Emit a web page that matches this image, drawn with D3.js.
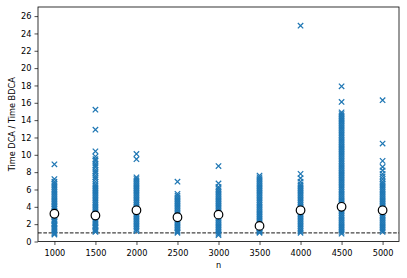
<!DOCTYPE html>
<html>
<head>
<meta charset="utf-8">
<script src="https://cdn.jsdelivr.net/npm/d3@7"></script>
<style>
  body { margin: 0; background: #fff; }
  svg { display: block; font-family: "DejaVu Sans", sans-serif; }
  text { font-family: "DejaVu Sans", sans-serif; }
  .tick text { font-size: 8.2px; fill: #000; font-family: "DejaVu Sans", sans-serif; }
  .tick line { stroke: #000; stroke-width: 0.7; }
  .domain { display: none; }
</style>
</head>
<body>
<div id="chart"></div>
<script>
const ns = [1000, 1500, 2000, 2500, 3000, 3500, 4000, 4500, 5000];
const means = [3.2, 3.0, 3.6, 2.8, 3.1, 1.8, 3.6, 4.0, 3.6];

const ratios1000 = [0.8, 0.95, 1.1, 1.3, 1.45, 1.6, 1.8, 1.95, 2.1, 2.3, 2.45, 2.6, 2.8, 2.95, 3.1, 3.3, 3.45, 3.6, 3.8, 3.95, 4.1, 4.3, 4.5, 4.7, 4.9, 5.1, 5.3, 5.5, 5.7, 5.9, 6.1, 6.3, 6.5, 6.7, 6.9, 7.2, 8.9];
const ratios1500 = [1.1, 1.25, 1.4, 1.6, 1.75, 1.9, 2.1, 2.25, 2.4, 2.6, 2.8, 3.0, 3.2, 3.4, 3.6, 3.8, 4.0, 4.2, 4.4, 4.6, 4.8, 5.0, 5.2, 5.4, 5.6, 5.8, 6.0, 6.2, 6.4, 6.6, 6.9, 7.2, 7.4, 7.6, 7.9, 8.1, 8.3, 8.6, 8.8, 9.0, 9.3, 9.5, 9.8, 10.4, 12.9, 15.2];
const ratios2000 = [1.2, 1.4, 1.6, 1.8, 2.0, 2.2, 2.4, 2.6, 2.8, 3.0, 3.2, 3.4, 3.6, 3.8, 4.0, 4.2, 4.4, 4.6, 4.8, 5.0, 5.2, 5.4, 5.6, 5.8, 6.0, 6.2, 6.4, 6.6, 6.8, 7.0, 7.2, 7.4, 9.5, 10.1];
const ratios2500 = [1.0, 1.15, 1.3, 1.5, 1.7, 1.9, 2.1, 2.3, 2.5, 2.7, 2.9, 3.1, 3.3, 3.5, 3.7, 3.9, 4.1, 4.3, 4.5, 4.7, 4.9, 5.1, 5.3, 5.5, 6.9];
const ratios3000 = [0.75, 0.9, 1.1, 1.3, 1.5, 1.7, 1.9, 2.1, 2.3, 2.5, 2.7, 2.9, 3.1, 3.3, 3.5, 3.7, 3.9, 4.1, 4.3, 4.5, 4.7, 4.9, 5.1, 5.3, 5.5, 5.7, 5.9, 6.1, 6.3, 6.7, 8.7];
const ratios3500 = [1.0, 1.1, 1.2, 1.3, 1.4, 1.5, 1.6, 1.8, 2.0, 2.2, 2.4, 2.6, 2.8, 3.0, 3.2, 3.4, 3.6, 3.8, 4.0, 4.2, 4.4, 4.6, 4.8, 5.0, 5.2, 5.4, 5.6, 5.8, 6.0, 6.2, 6.4, 6.6, 6.8, 7.0, 7.2, 7.4, 7.6];
const ratios4000 = [1.0, 1.2, 1.4, 1.6, 1.8, 2.0, 2.2, 2.4, 2.6, 2.8, 3.0, 3.2, 3.4, 3.6, 3.8, 4.0, 4.2, 4.4, 4.6, 4.8, 5.0, 5.2, 5.4, 5.6, 5.8, 6.0, 6.2, 6.4, 6.6, 6.9, 7.3, 7.8, 24.9];
const ratios4500 = [0.9, 1.1, 1.3, 1.5, 1.7, 1.9, 2.1, 2.3, 2.5, 2.7, 2.9, 3.1, 3.3, 3.5, 3.7, 3.9, 4.1, 4.3, 4.5, 4.7, 4.9, 5.1, 5.3, 5.5, 5.7, 5.9, 6.1, 6.3, 6.5, 6.7, 6.9, 7.1, 7.3, 7.5, 7.7, 7.9, 8.1, 8.3, 8.5, 8.7, 8.9, 9.1, 9.3, 9.5, 9.7, 9.9, 10.1, 10.3, 10.5, 10.7, 10.9, 11.1, 11.3, 11.5, 11.7, 11.9, 12.1, 12.3, 12.5, 12.7, 12.9, 13.1, 13.3, 13.5, 13.7, 13.9, 14.1, 14.3, 14.5, 14.7, 14.9, 16.1, 17.9];
const ratios5000 = [1.1, 1.3, 1.5, 1.7, 1.9, 2.1, 2.3, 2.5, 2.7, 2.9, 3.1, 3.3, 3.5, 3.7, 3.9, 4.1, 4.3, 4.5, 4.7, 4.9, 5.1, 5.3, 5.5, 5.7, 5.9, 6.1, 6.3, 6.5, 6.7, 6.9, 7.2, 7.5, 7.8, 8.2, 8.6, 9.3, 11.3, 16.3];

const ratios = [ratios1000, ratios1500, ratios2000, ratios2500, ratios3000, ratios3500, ratios4000, ratios4500, ratios5000];
const yTicks = [0, 2, 4, 6, 8, 10, 12, 14, 16, 18, 20, 22, 24, 26];
const baseline = 1;

const outerWidth = 407;
const outerHeight = 278;
const margin = { top: 7, left: 38, bottom: 36.5, right: 8 };
const innerWidth = outerWidth - margin.left - margin.right;
const innerHeight = outerHeight - margin.top - margin.bottom;
const blue = '#1f77b4';

const points = ns.flatMap((n, i) => ratios[i].map(v => ({ n, v })));

const xScale = d3.scaleLinear().domain([800, 5200]).range([0, innerWidth]);
const yScale = d3.scaleLinear().domain([0, 27.05]).range([innerHeight, 0]);

const svg = d3.select('#chart')
    .append('svg')
        .attr('width', outerWidth)
        .attr('height', outerHeight)
    .append('g')
        .attr('transform', `translate(${margin.left},${margin.top})`);

// dashed reference line at ratio 1
svg.append('line')
    .attr('x1', 0)
    .attr('x2', innerWidth)
    .attr('y1', yScale(baseline))
    .attr('y2', yScale(baseline))
    .attr('stroke', '#444')
    .attr('stroke-width', 1.2)
    .attr('stroke-dasharray', '3.7 1.6');

// x markers
const s = 2.7;
svg.selectAll('.pt')
    .data(points)
    .join('path')
        .classed('pt', true)
        .attr('transform', d => `translate(${xScale(d.n)},${yScale(d.v)})`)
        .attr('d', `M${-s},${-s}L${s},${s}M${-s},${s}L${s},${-s}`)
        .attr('stroke', blue)
        .attr('stroke-width', 1.25)
        .attr('fill', 'none');

// means
svg.selectAll('.mean')
    .data(ns)
    .join('circle')
        .classed('mean', true)
        .attr('cx', d => xScale(d))
        .attr('cy', (d, i) => yScale(means[i]))
        .attr('r', 4.3)
        .attr('fill', '#fff')
        .attr('stroke', '#000')
        .attr('stroke-width', 1.2);

// frame
svg.append('rect')
    .attr('width', innerWidth)
    .attr('height', innerHeight)
    .attr('fill', 'none')
    .attr('stroke', '#000')
    .attr('stroke-width', 0.8);

const xAxis = d3.axisBottom(xScale)
    .tickValues(ns)
    .tickSize(3.5)
    .tickPadding(5)
    .tickFormat(d3.format('d'));

svg.append('g')
    .attr('transform', `translate(0, ${innerHeight})`)
    .call(xAxis);

const yAxis = d3.axisLeft(yScale)
    .tickValues(yTicks)
    .tickSize(3.5)
    .tickPadding(3);

svg.append('g').call(yAxis);

svg.append('text')
    .attr('x', innerWidth / 2)
    .attr('y', innerHeight + 26)
    .attr('text-anchor', 'middle')
    .attr('font-size', 8.2)
    .text('n');

svg.append('text')
    .attr('transform', `translate(${-22.7},${innerHeight / 2}) rotate(-90)`)
    .attr('text-anchor', 'middle')
    .attr('font-size', 8.2)
    .text('Time DCA / Time BDCA');
</script>
</body>
</html>
